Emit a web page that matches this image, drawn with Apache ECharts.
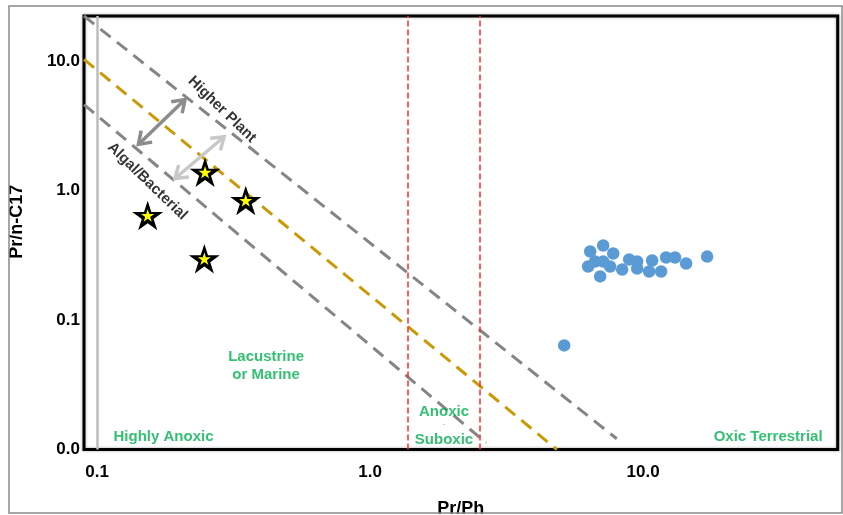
<!DOCTYPE html>
<html>
<head>
<meta charset="utf-8">
<script src="https://cdn.jsdelivr.net/npm/echarts@6/dist/echarts.min.js"></script>
<style>
  html, body { margin: 0; padding: 0; background: #fff; }
  #chart { width: 843px; height: 515px; }
</style>
</head>
<body>
<div id="chart"></div>
<script>
// Axis extents (log scale) and decade labels
const xRange = [0.0896, 51.6];
const yRange = [0.01, 22.26];
const xTickValues = [0.1, 1, 10];
const yTickValues = [0.01, 0.1, 1, 10];

// Lacustrine / marine samples (stars): [Pr/Ph, Pr/n-C17]
const starSamples = [
  [0.2487, 1.384],
  [0.3505, 0.837],
  [0.1533, 0.641],
  [0.2472, 0.297]
];

// Terrestrial samples (blue dots): [Pr/Ph, Pr/n-C17]
const dotSamples = [
  [6.29, 0.259],
  [6.40, 0.338],
  [6.96, 0.217],
  [7.14, 0.376],
  [7.14, 0.283],
  [6.67, 0.283],
  [7.77, 0.326],
  [7.57, 0.259],
  [8.38, 0.245],
  [8.89, 0.293],
  [9.51, 0.283],
  [9.51, 0.250],
  [10.52, 0.237],
  [10.79, 0.288],
  [11.64, 0.237],
  [12.14, 0.304],
  [13.09, 0.304],
  [14.37, 0.273],
  [17.16, 0.309],
  [5.14, 0.0636]
];

// Source boundaries (dashed diagonals)
const higherPlantBoundary = [[0.0896, 22.26], [8.01, 0.0121]];
const mixedBoundary = [[0.0896, 10.3], [4.83, 0.01]];
const algalBoundary = [[0.0896, 4.61], [2.66, 0.01127]];

// Redox limits on Pr/Ph
const redoxLimits = [1.374, 2.53];
const referenceLine = 0.1;

// Double-headed arrows: [x1, y1, x2, y2]
const darkArrow = [0.1417, 2.27, 0.210, 5.04];
const lightArrow = [0.193, 1.238, 0.292, 2.60];

// Zone and source labels: [x, y, text]
const sourceLabels = [
  [0.287, 4.22, 'Higher Plant'],
  [0.1528, 1.18, 'Algal/Bacterial']
];
const zoneLabels = [
  [0.416, 0.0445, 'Lacustrine\nor Marine'],
  [0.1752, 0.0126, 'Highly Anoxic'],
  [1.866, 0.01966, 'Anoxic'],
  [1.866, 0.0156, '-'],
  [1.866, 0.01195, 'Suboxic'],
  [28.7, 0.0126, 'Oxic Terrestrial']
];

const FONT = "'Liberation Sans', Arial, sans-serif";
const GREEN = '#00B050';
const STAR = 'path://M50 0 L61.23 34.55 L97.55 34.55 L68.17 55.9 L79.39 90.45 L50 69.1 L20.61 90.45 L31.83 55.9 L2.45 34.55 L38.77 34.55 Z';

function isDecade(v, list) {
  return list.some(t => Math.abs(Math.log10(v) - Math.log10(t)) < 1e-6);
}

function arrowRender(params, api) {
  const p1 = api.coord([api.value(0), api.value(1)]);
  const p2 = api.coord([api.value(2), api.value(3)]);
  const color = api.visual('color');
  const head = (tip, from) => {
    const dx = tip[0] - from[0], dy = tip[1] - from[1];
    const len = Math.hypot(dx, dy);
    const ux = dx / len, uy = dy / len;
    const L = 14, a = Math.PI / 5.2;
    const c = Math.cos(a), s = Math.sin(a);
    const b1 = [tip[0] - L * (ux * c - uy * s), tip[1] - L * (uy * c + ux * s)];
    const b2 = [tip[0] - L * (ux * c + uy * s), tip[1] - L * (uy * c - ux * s)];
    return {
      type: 'polyline',
      shape: { points: [b1, tip, b2] },
      style: { stroke: color, lineWidth: 3.5, fill: null, lineJoin: 'miter' }
    };
  };
  return {
    type: 'group',
    children: [
      { type: 'line', shape: { x1: p1[0], y1: p1[1], x2: p2[0], y2: p2[1] },
        style: { stroke: color, lineWidth: 3.5 } },
      head(p2, p1),
      head(p1, p2)
    ]
  };
}

const chart = echarts.init(document.getElementById('chart'));

const option = {
  backgroundColor: '#fff',
  animation: false,
  grid: {
    left: 84, right: 5.3, top: 16, bottom: 65.5,
    outerBoundsMode: 'none',
    containLabel: false,
    show: true,
    borderColor: '#000',
    borderWidth: 3,
    shadowColor: 'rgba(0,0,0,0.35)',
    shadowBlur: 3
  },
  xAxis: {
    type: 'log',
    logBase: 10,
    min: xRange[0],
    max: xRange[1],
    name: 'Pr/Ph',
    nameLocation: 'middle',
    nameGap: 51,
    nameTextStyle: { fontFamily: FONT, fontWeight: 'bold', fontSize: 18, color: '#000' },
    axisLine: { show: false },
    axisTick: { show: false },
    splitLine: { show: false },
    axisLabel: {
      margin: 14,
      fontFamily: FONT, fontWeight: 'bold', fontSize: 17, color: '#000',
      formatter: v => isDecade(v, xTickValues) ? Number(v).toFixed(1) : ''
    }
  },
  yAxis: {
    type: 'log',
    logBase: 10,
    min: yRange[0],
    max: yRange[1],
    name: 'Pr/n-C17',
    nameLocation: 'middle',
    nameGap: 58,
    nameTextStyle: { fontFamily: FONT, fontWeight: 'bold', fontSize: 18, color: '#000', padding: [0, 0, 0, 22] },
    axisLine: { show: false },
    axisTick: { show: false },
    splitLine: { show: false },
    axisLabel: {
      margin: 4,
      fontFamily: FONT, fontWeight: 'bold', fontSize: 17, color: '#000',
      formatter: v => isDecade(v, yTickValues) ? Number(v).toFixed(1) : ''
    }
  },
  graphic: [
    {
      type: 'rect',
      shape: { x: 9, y: 6, width: 833, height: 507 },
      style: { fill: null, stroke: '#8a8a8a', lineWidth: 1.5 },
      z: 100, silent: true
    }
  ],
  series: [
    {
      // reference line at Pr/Ph = 0.1 and redox limits
      type: 'line',
      data: [],
      silent: true,
      markLine: {
        silent: true,
        symbol: 'none',
        label: { show: false },
        data: [
          { xAxis: referenceLine, lineStyle: { color: '#bdbdbd', width: 2.5, type: 'solid' } },
          { xAxis: redoxLimits[0], lineStyle: { color: '#ff2b2b', width: 1.5, type: [6, 3] } },
          { xAxis: redoxLimits[1], lineStyle: { color: '#ff2b2b', width: 1.5, type: [6, 3] } }
        ]
      }
    },
    {
      type: 'line', data: higherPlantBoundary, symbol: 'none', silent: true,
      lineStyle: { color: '#858585', width: 3, type: [13, 8] }, z: 3
    },
    {
      type: 'line', data: mixedBoundary, symbol: 'none', silent: true,
      lineStyle: { color: '#C99A06', width: 3, type: [13, 8] }, z: 3
    },
    {
      type: 'line', data: algalBoundary, symbol: 'none', silent: true,
      lineStyle: { color: '#858585', width: 3, type: [13, 8] }, z: 3
    },
    {
      type: 'custom',
      renderItem: arrowRender,
      encode: { x: [0, 2], y: [1, 3] },
      silent: true,
      z: 4,
      data: [
        { value: darkArrow, itemStyle: { color: '#8c8c8c' } },
        { value: lightArrow, itemStyle: { color: '#c8c8c8' } }
      ]
    },
    {
      type: 'scatter',
      data: dotSamples,
      symbol: 'circle',
      symbolSize: 12.5,
      itemStyle: { color: '#5B9BD5', opacity: 1 },
      z: 5
    },
    {
      type: 'scatter',
      data: starSamples,
      symbol: STAR,
      symbolSize: 31,
      symbolKeepAspect: true,
      itemStyle: { color: '#000', opacity: 1 },
      z: 6
    },
    {
      type: 'scatter',
      data: starSamples,
      symbol: STAR,
      symbolSize: 13,
      symbolKeepAspect: true,
      itemStyle: { color: '#ffff00', opacity: 1 },
      z: 7
    },
    {
      type: 'scatter',
      silent: true,
      symbolSize: 0,
      z: 8,
      data: sourceLabels.map(d => ({
        value: [d[0], d[1]],
        label: { formatter: d[2], rotate: -44 }
      })),
      itemStyle: { color: 'transparent' },
      label: {
        show: true, position: 'inside',
        fontFamily: FONT, fontWeight: 'bold', fontSize: 15, color: '#000'
      }
    },
    {
      type: 'scatter',
      silent: true,
      symbolSize: 0,
      z: 8,
      data: zoneLabels.map(d => ({
        value: [d[0], d[1]],
        label: d[2] === '-' ? { formatter: d[2], fontSize: 6 } : { formatter: d[2] }
      })),
      itemStyle: { color: 'transparent' },
      label: {
        show: true, position: 'inside', align: 'center',
        fontFamily: FONT, fontWeight: 'bold', fontSize: 15, lineHeight: 18, color: GREEN
      }
    }
  ]
};

chart.setOption(option);
</script>
</body>
</html>
